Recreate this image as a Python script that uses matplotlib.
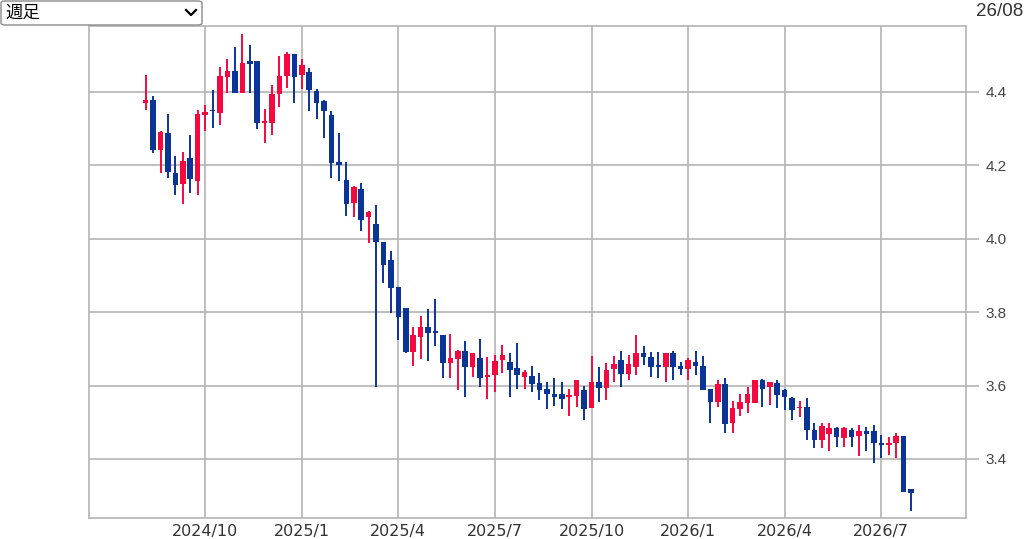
import numpy as np
import pandas as pd
import matplotlib
matplotlib.use("Agg")
import matplotlib.pyplot as plt
from matplotlib.patches import FancyBboxPatch
from matplotlib.lines import Line2D

# weekly candles (week ending Friday)
dates = pd.date_range("2024-08-09", periods=104, freq="W-FRI")

opens = [4.370, 4.379, 4.243, 4.288, 4.179, 4.149, 4.220, 4.157, 4.338, 4.352,
         4.343, 4.440, 4.456, 4.397, 4.484, 4.484, 4.316, 4.316, 4.395, 4.443,
         4.504, 4.447, 4.454, 4.404, 4.375, 4.338, 4.209, 4.161, 4.098, 4.137,
         4.059, 4.040, 3.992, 3.942, 3.868, 3.811, 3.692, 3.733, 3.759, 3.750,
         3.738, 3.661, 3.672, 3.695, 3.650, 3.674, 3.623, 3.629, 3.670, 3.664,
         3.647, 3.624, 3.626, 3.608, 3.590, 3.577, 3.577, 3.570, 3.572, 3.587,
         3.538, 3.611, 3.593, 3.645, 3.670, 3.632, 3.651, 3.688, 3.679, 3.653,
         3.651, 3.690, 3.653, 3.645, 3.665, 3.653, 3.590, 3.556, 3.604, 3.497,
         3.536, 3.552, 3.553, 3.616, 3.597, 3.608, 3.587, 3.565, 3.538, 3.543,
         3.478, 3.452, 3.468, 3.484, 3.457, 3.478, 3.463, 3.475, 3.475, 3.444,
         3.439, 3.443, 3.463, 3.317]
highs = [4.447, 4.388, 4.295, 4.340, 4.226, 4.236, 4.284, 4.352, 4.364, 4.406,
         4.467, 4.491, 4.522, 4.558, 4.527, 4.484, 4.355, 4.420, 4.497, 4.509,
         4.504, 4.491, 4.464, 4.409, 4.379, 4.349, 4.288, 4.209, 4.143, 4.152,
         4.077, 4.092, 3.992, 3.968, 3.868, 3.811, 3.759, 3.790, 3.808, 3.835,
         3.738, 3.741, 3.697, 3.722, 3.690, 3.726, 3.679, 3.683, 3.711, 3.688,
         3.715, 3.643, 3.653, 3.633, 3.611, 3.621, 3.611, 3.590, 3.614, 3.599,
         3.681, 3.651, 3.661, 3.681, 3.695, 3.683, 3.738, 3.708, 3.692, 3.692,
         3.690, 3.695, 3.664, 3.674, 3.695, 3.681, 3.590, 3.616, 3.620, 3.559,
         3.577, 3.595, 3.616, 3.619, 3.611, 3.614, 3.590, 3.568, 3.559, 3.566,
         3.497, 3.497, 3.499, 3.488, 3.488, 3.484, 3.493, 3.486, 3.493, 3.465,
         3.459, 3.472, 3.463, 3.317]
lows = [4.352, 4.234, 4.179, 4.166, 4.120, 4.095, 4.125, 4.120, 4.293, 4.302,
        4.311, 4.397, 4.397, 4.397, 4.397, 4.300, 4.261, 4.282, 4.358, 4.411,
        4.370, 4.409, 4.347, 4.327, 4.275, 4.166, 4.158, 4.061, 4.059, 4.022,
        3.988, 3.597, 3.879, 3.797, 3.724, 3.689, 3.653, 3.672, 3.668, 3.708,
        3.620, 3.620, 3.588, 3.570, 3.623, 3.597, 3.563, 3.583, 3.633, 3.570,
        3.591, 3.591, 3.583, 3.561, 3.536, 3.544, 3.536, 3.516, 3.543, 3.505,
        3.538, 3.556, 3.561, 3.611, 3.597, 3.615, 3.629, 3.656, 3.624, 3.620,
        3.611, 3.615, 3.629, 3.615, 3.629, 3.587, 3.498, 3.541, 3.471, 3.472,
        3.516, 3.526, 3.553, 3.541, 3.547, 3.538, 3.534, 3.506, 3.515, 3.452,
        3.429, 3.429, 3.423, 3.432, 3.432, 3.434, 3.409, 3.423, 3.390, 3.402,
        3.411, 3.402, 3.310, 3.259]
closes = [4.379, 4.243, 4.291, 4.182, 4.147, 4.213, 4.164, 4.340, 4.345, 4.347,
          4.443, 4.456, 4.397, 4.479, 4.477, 4.316, 4.320, 4.395, 4.443, 4.504,
          4.440, 4.474, 4.406, 4.370, 4.347, 4.207, 4.202, 4.095, 4.140, 4.052,
          4.074, 3.990, 3.929, 3.865, 3.788, 3.692, 3.738, 3.759, 3.744, 3.744,
          3.661, 3.674, 3.695, 3.651, 3.688, 3.620, 3.627, 3.668, 3.683, 3.642,
          3.629, 3.636, 3.605, 3.588, 3.577, 3.568, 3.563, 3.574, 3.614, 3.536,
          3.611, 3.593, 3.643, 3.659, 3.632, 3.659, 3.688, 3.679, 3.651, 3.650,
          3.690, 3.651, 3.645, 3.670, 3.653, 3.587, 3.556, 3.605, 3.496, 3.538,
          3.554, 3.577, 3.614, 3.592, 3.611, 3.575, 3.568, 3.534, 3.543, 3.478,
          3.452, 3.490, 3.484, 3.461, 3.484, 3.461, 3.475, 3.468, 3.444, 3.439,
          3.444, 3.463, 3.311, 3.308]

yticks = [3.4, 3.6, 3.8, 4.0, 4.2, 4.4]
tick_months = [1, 4, 7, 10]

UP = "#f5083f"
DOWN = "#0b3497"
GRID = "#b4b4b4"

o = np.array(opens)
h = np.array(highs)
l = np.array(lows)
c = np.array(closes)
x = np.arange(len(dates))
up = c >= o
col = np.where(up, UP, DOWN)

fig = plt.figure(figsize=(10.24, 5.39), dpi=100)
ax = fig.add_axes([89 / 1024, 1 - 518 / 539, 877 / 1024, 492 / 539])

ax.vlines(x, l, h, colors=col, linewidth=1.4, zorder=3)
bottom = np.minimum(o, c)
height = np.maximum(np.abs(c - o), 0.005)
ax.bar(x, height, bottom=bottom, width=0.75, color=col, linewidth=0, zorder=4)

# x ticks at the first candle of each quarter month
tpos, tlab = [], []
for i, d in enumerate(dates):
    if d.month in tick_months and (i == 0 or dates[i - 1].month != d.month):
        tpos.append(i)
        tlab.append(f"{d.year}/{d.month}")
ax.set_xticks(tpos)
ax.set_xticklabels(tlab, fontsize=11.5, color="#333333", family="DejaVu Sans")
ax.tick_params(axis="x", length=0, pad=4)

ax.set_yticks(yticks)
ax.set_yticklabels([f"{v:.1f}" for v in yticks], fontsize=11,
                   color="#444444", family="Liberation Sans")
ax.yaxis.tick_right()
ax.tick_params(axis="y", length=9, width=1.2, color=GRID, pad=5)

ax.set_xlim(-7.63, 110.4)
ax.set_ylim(3.2392, 4.5798)
ax.grid(True, color=GRID, linewidth=1.2, zorder=0)
ax.set_axisbelow(True)
for s in ax.spines.values():
    s.set_color(GRID)
    s.set_linewidth(1.2)

# dropdown box top-left
box = FancyBboxPatch((1 / 1024, 1 - 25 / 539), 201 / 1024, 24 / 539,
                     boxstyle="round,pad=0,rounding_size=0.004",
                     transform=fig.transFigure, facecolor="white",
                     edgecolor="#8a8a8a", linewidth=1)
fig.patches.append(box)
fig.text(5 / 1024, 1 - 12.5 / 539, "週足", fontsize=12.5, va="center",
         family=["Noto Sans CJK JP", "DejaVu Sans"], color="black")
fig.lines.append(Line2D([186 / 1024, 191 / 1024, 196 / 1024],
                        [1 - 10 / 539, 1 - 15 / 539, 1 - 10 / 539],
                        transform=fig.transFigure, color="black", linewidth=1.6))

fig.text(1023 / 1024, 1 - 11 / 539, "26/08", fontsize=13.5, ha="right",
         va="center", color="#333333", family="Liberation Sans")

fig.savefig("out.png", dpi=100)
